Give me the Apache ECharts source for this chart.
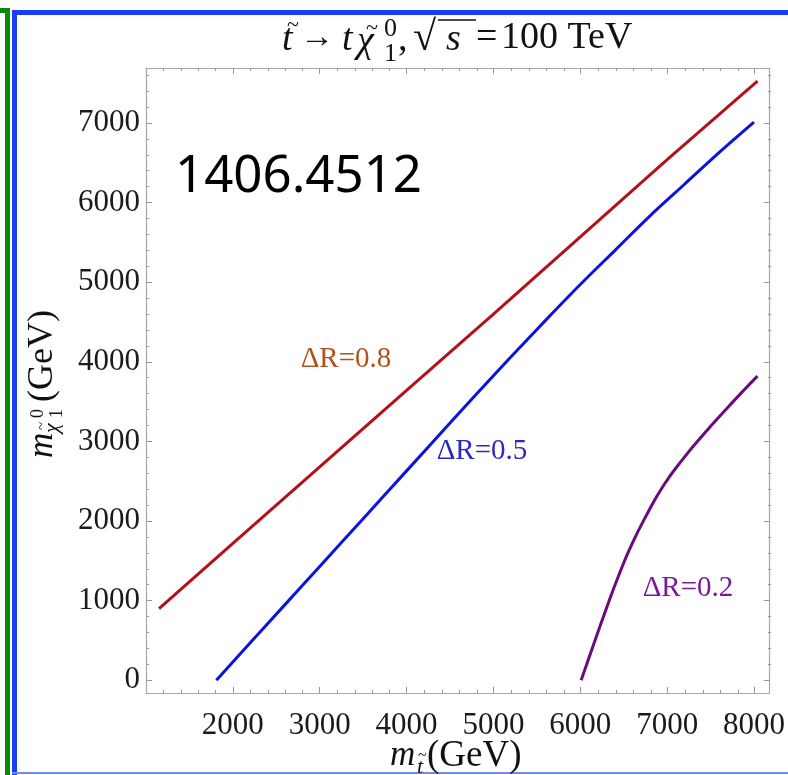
<!DOCTYPE html>
<html>
<head>
<meta charset="utf-8">
<script src="https://cdn.jsdelivr.net/npm/echarts@6/dist/echarts.min.js"></script>
<style>
  html, body { margin: 0; padding: 0; background: #ffffff; }
  #chart { width: 788px; height: 775px; }
</style>
</head>
<body>
<div id="chart"></div>
<script>
// Stop mass m_stop (GeV) on x, neutralino mass m_chi (GeV) on y
const xTickValues = [2000, 3000, 4000, 5000, 6000, 7000, 8000];
const yTickValues = [0, 1000, 2000, 3000, 4000, 5000, 6000, 7000];

// Contours for different top-jet cone sizes
const contourDR08 = [[1150, 900], [2000, 1720], [3000, 2680], [4000, 3640], [5000, 4600],
  [6000, 5570], [7000, 6540], [8040, 7525]];
const contourDR05 = [[1810, 0], [2200, 470], [2600, 950], [3000, 1430], [3500, 2030],
  [4000, 2630], [4500, 3230], [4800, 3590], [5200, 4060], [5600, 4520], [6000, 4970],
  [6400, 5400], [6800, 5830], [7200, 6230], [7600, 6630], [8000, 7010]];
const contourDR02 = [[6010, 0], [6150, 440], [6290, 870], [6440, 1310], [6590, 1700],
  [6760, 2070], [6960, 2450], [7190, 2790], [7420, 3090], [7650, 3370], [7880, 3640],
  [8040, 3820]];

const contourNames = ['ΔR=0.8', 'ΔR=0.5', 'ΔR=0.2'];

const X_MIN = 1000, X_MAX = 8180;
const Y_MIN = -160, Y_MAX = 7690;

// minor ticks every 200 GeV between the labelled ones
function minorTicks(lo, hi, step, major) {
  const out = [];
  for (let v = Math.ceil(lo / step) * step; v <= hi; v += step) {
    if (major.indexOf(v) < 0 && v > lo && v < hi) out.push(v);
  }
  return out;
}
const xMinor = minorTicks(X_MIN, X_MAX, 200, xTickValues);
const yMinor = minorTicks(Y_MIN, Y_MAX, 200, yTickValues);

const SERIF = '"Liberation Serif", "Times New Roman", serif';
const FRAME = '#a8a8a8';
const TICK = '#9a9a9a';

function axisDef(kind, grid, pos, ticks, len, showLine, labels) {
  const isX = kind === 'x';
  return {
    type: 'value',
    gridIndex: grid,
    position: pos,
    min: isX ? X_MIN : Y_MIN,
    max: isX ? X_MAX : Y_MAX,
    axisLine: { show: showLine, onZero: false, lineStyle: { color: FRAME, width: 1.2 } },
    axisTick: { show: true, inside: true, length: len, customValues: ticks,
      lineStyle: { color: TICK, width: 1 } },
    axisLabel: labels ? {
      show: true, customValues: labels, fontFamily: SERIF, fontSize: 31,
      color: '#1a1a1a', margin: isX ? 17 : 6,
      formatter: function (v) { return String(v); }
    } : { show: false },
    splitLine: { show: false },
    minorTick: { show: false }
  };
}

const chart = echarts.init(document.getElementById('chart'), null, { renderer: 'canvas' });

const gridBox = { left: 146, right: 17, top: 68, bottom: 82 };

function txt(x, y, s, size, italic, color, align) {
  return {
    type: 'text', x: x, y: y, silent: true,
    style: {
      text: s, fontFamily: SERIF, fontSize: size, fontStyle: italic ? 'italic' : 'normal',
      fill: color || '#111', align: align || 'left', verticalAlign: 'middle'
    }
  };
}

// title: t~ -> t chi~^0_1, sqrt(s) = 100 TeV
const titleGroup = {
  type: 'group', children: [
    txt(282, 40, 't', 38, true),
    txt(287, 25, '~', 22, false),
    txt(300, 38, '→', 34, false),
    txt(342, 40, 't', 38, true),
    txt(357, 42, 'χ', 38, true),
    txt(366, 28, '~', 22, false),
    txt(384, 29, '0', 26, false),
    txt(384, 54, '1', 26, false),
    txt(398, 40, ',', 38, false),
    txt(413, 39, '√', 42, false),
    { type: 'line', silent: true, shape: { x1: 438, y1: 20, x2: 476, y2: 20 },
      style: { stroke: '#111', lineWidth: 1.6 } },
    txt(446, 40, 's', 38, true),
    txt(476, 38, '=', 38, false),
    txt(501, 38, '100 TeV', 38, false)
  ]
};

const xNameGroup = {
  type: 'group', children: [
    txt(390, 756, 'm', 35, true),
    txt(417, 767, 't', 22, true),
    txt(418, 756, '~', 16, false),
    txt(427, 756, '(GeV)', 37, false)
  ]
};

// rotated y-axis name, reading bottom to top
const yNameGroup = {
  type: 'group', x: 43, y: 458, rotation: Math.PI / 2, children: [
    txt(0, 0, 'm', 35, true),
    txt(25, 9, 'χ', 22, true),
    txt(28, -1, '~', 15, false),
    txt(40, -5, '0', 18, false),
    txt(40, 14, '1', 18, false),
    txt(56, 0, '(GeV)', 36, false)
  ]
};

// page frame decorations
const frameDecor = [
  { type: 'rect', silent: true, shape: { x: 5, y: 8, width: 5, height: 767 }, style: { fill: '#0a8a0a' } },
  { type: 'rect', silent: true, shape: { x: 0, y: 8, width: 10, height: 5 }, style: { fill: '#0a8a0a' } },
  { type: 'rect', silent: true, shape: { x: 12, y: 10, width: 5, height: 765 }, style: { fill: '#1a3cff' } },
  { type: 'rect', silent: true, shape: { x: 12, y: 10, width: 776, height: 5 }, style: { fill: '#1a3cff' } },
  { type: 'rect', silent: true, shape: { x: 12, y: 772, width: 776, height: 2 }, style: { fill: '#6f8cff' } }
];

const option = {
  animation: false,
  backgroundColor: '#ffffff',
  grid: [Object.assign({}, gridBox), Object.assign({}, gridBox)],
  xAxis: [
    axisDef('x', 0, 'bottom', xTickValues, 6, true, xTickValues),
    axisDef('x', 0, 'top', xTickValues, 6, true, null),
    axisDef('x', 1, 'bottom', xMinor, 3, false, null),
    axisDef('x', 1, 'top', xMinor, 3, false, null)
  ],
  yAxis: [
    axisDef('y', 0, 'left', yTickValues, 6, true, yTickValues),
    axisDef('y', 0, 'right', yTickValues, 6, true, null),
    axisDef('y', 1, 'left', yMinor, 3, false, null),
    axisDef('y', 1, 'right', yMinor, 3, false, null)
  ],
  series: [
    { name: contourNames[0], type: 'line', xAxisIndex: 0, yAxisIndex: 0, data: contourDR08,
      showSymbol: false, smooth: false, lineStyle: { color: '#b5101a', width: 3 } },
    { name: contourNames[1], type: 'line', xAxisIndex: 0, yAxisIndex: 0, data: contourDR05,
      showSymbol: false, smooth: 0.3, lineStyle: { color: '#0c12e0', width: 3 } },
    { name: contourNames[2], type: 'line', xAxisIndex: 0, yAxisIndex: 0, data: contourDR02,
      showSymbol: false, smooth: 0.5, lineStyle: { color: '#6a0a7e', width: 3 } }
  ],
  graphic: frameDecor.concat([
    titleGroup,
    xNameGroup,
    yNameGroup,
    { type: 'text', x: 175, y: 177, silent: true,
      style: { text: '1406.4512', fontFamily: '"Noto Sans", "Open Sans", sans-serif', fontSize: 51,
        fill: '#000', align: 'left', verticalAlign: 'middle' } },
    txt(346, 359, contourNames[0], 29, false, '#b5501a', 'center'),
    txt(482, 451, contourNames[1], 29, false, '#2a2ac0', 'center'),
    txt(688, 588, contourNames[2], 29, false, '#7a1a9a', 'center')
  ])
};

chart.setOption(option);
</script>
</body>
</html>
